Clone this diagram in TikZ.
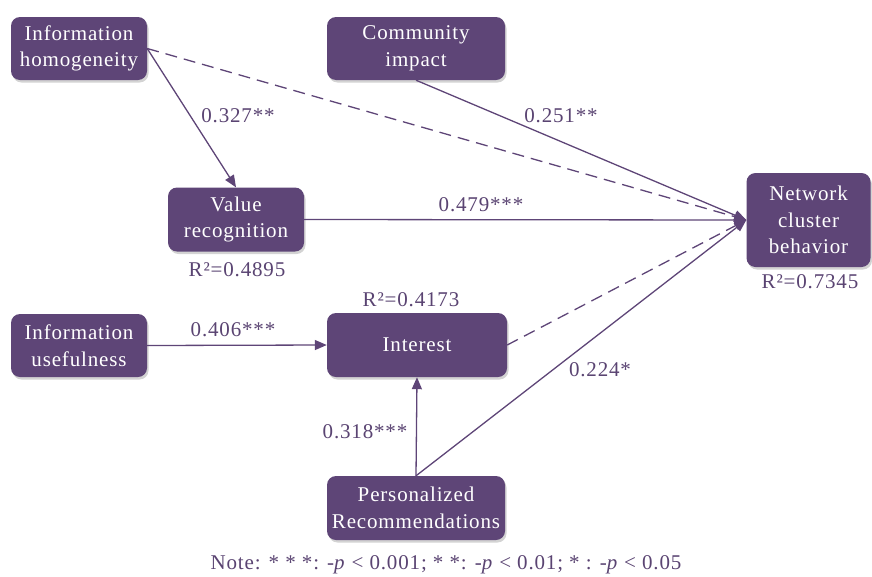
\documentclass[tikz,border=0pt]{standalone}
\usepackage{fontspec}
\setmainfont{Liberation Serif}[LetterSpace=4]
\usetikzlibrary{arrows.meta,shadows}
\definecolor{plum}{HTML}{5E4577}
\definecolor{plumtext}{HTML}{5A4472}

\begin{document}
\begin{tikzpicture}[x=1pt,y=-1pt,
  every node/.style={font=\fontsize{21}{26.5}\selectfont},
  box/.style={fill=plum,text=white,rounded corners=9pt,align=center,inner sep=2pt,
    drop shadow={shadow xshift=1.5pt,shadow yshift=-2.5pt,opacity=.35,fill=gray}},
  lbl/.style={text=plumtext},
  path/.style={draw=plum,line width=1.3pt,-{Triangle[length=12pt,width=10pt]}},
  weak/.style={path,dash pattern=on 12pt off 7pt}]
\useasboundingbox (0,0) rectangle (872,576);
% constructs
\node[box,minimum width=136pt,minimum height=63pt] (ih) at (79,48.5) {Information\\homogeneity};
\node[box,minimum width=178pt,minimum height=63pt] (ci) at (416,48.5) {Community\\impact};
\node[box,minimum width=136pt,minimum height=64pt] (vr) at (236,219.5) {Value\\recognition};
\node[box,minimum width=124pt,minimum height=94pt] (ncb) at (808.5,220) {Network\\cluster\\behavior};
\node[box,minimum width=136pt,minimum height=63pt] (iu) at (79,345.5) {Information\\usefulness};
\node[box,minimum width=180pt,minimum height=64pt] (int) at (417,345) {Interest};
\node[box,minimum width=178pt,minimum height=64pt] (pr) at (416,508) {Personalized\\Recommendations};
% R squared
\node[lbl] (r2vr) at (237,270) {R²=0.4895};
\node[lbl] (r2int) at (411,300) {R²=0.4173};
\node[lbl] (r2ncb) at (810,282) {R²=0.7345};
% paths
\draw[path] (ih.east) -- (vr.north);
\draw[weak] (ih.east) -- (ncb.west);
\draw[path] (ci.south) -- (ncb.west);
\draw[path] (vr.east) -- (ncb.west);
\draw[path] (iu.east) -- (int.west);
\draw[weak] (int.east) -- (ncb.west);
\draw[path] (pr.north) -- (int.south);
\draw[path] (pr.north) -- (ncb.west);
% coefficients
\node[lbl] (b1) at (238,116) {0.327**};
\node[lbl] (b2) at (561,116) {0.251**};
\node[lbl] (b3) at (481,205) {0.479***};
\node[lbl] (b4) at (233,330) {0.406***};
\node[lbl] (b5) at (365,432) {0.318***};
\node[lbl] (b6) at (600,370) {0.224*};
\node[lbl] (note) at (446,565) {Note: * * *: -\textit{p} < 0.001; * *: -\textit{p} < 0.01; * : -\textit{p} < 0.05};
\end{tikzpicture}
\end{document}
